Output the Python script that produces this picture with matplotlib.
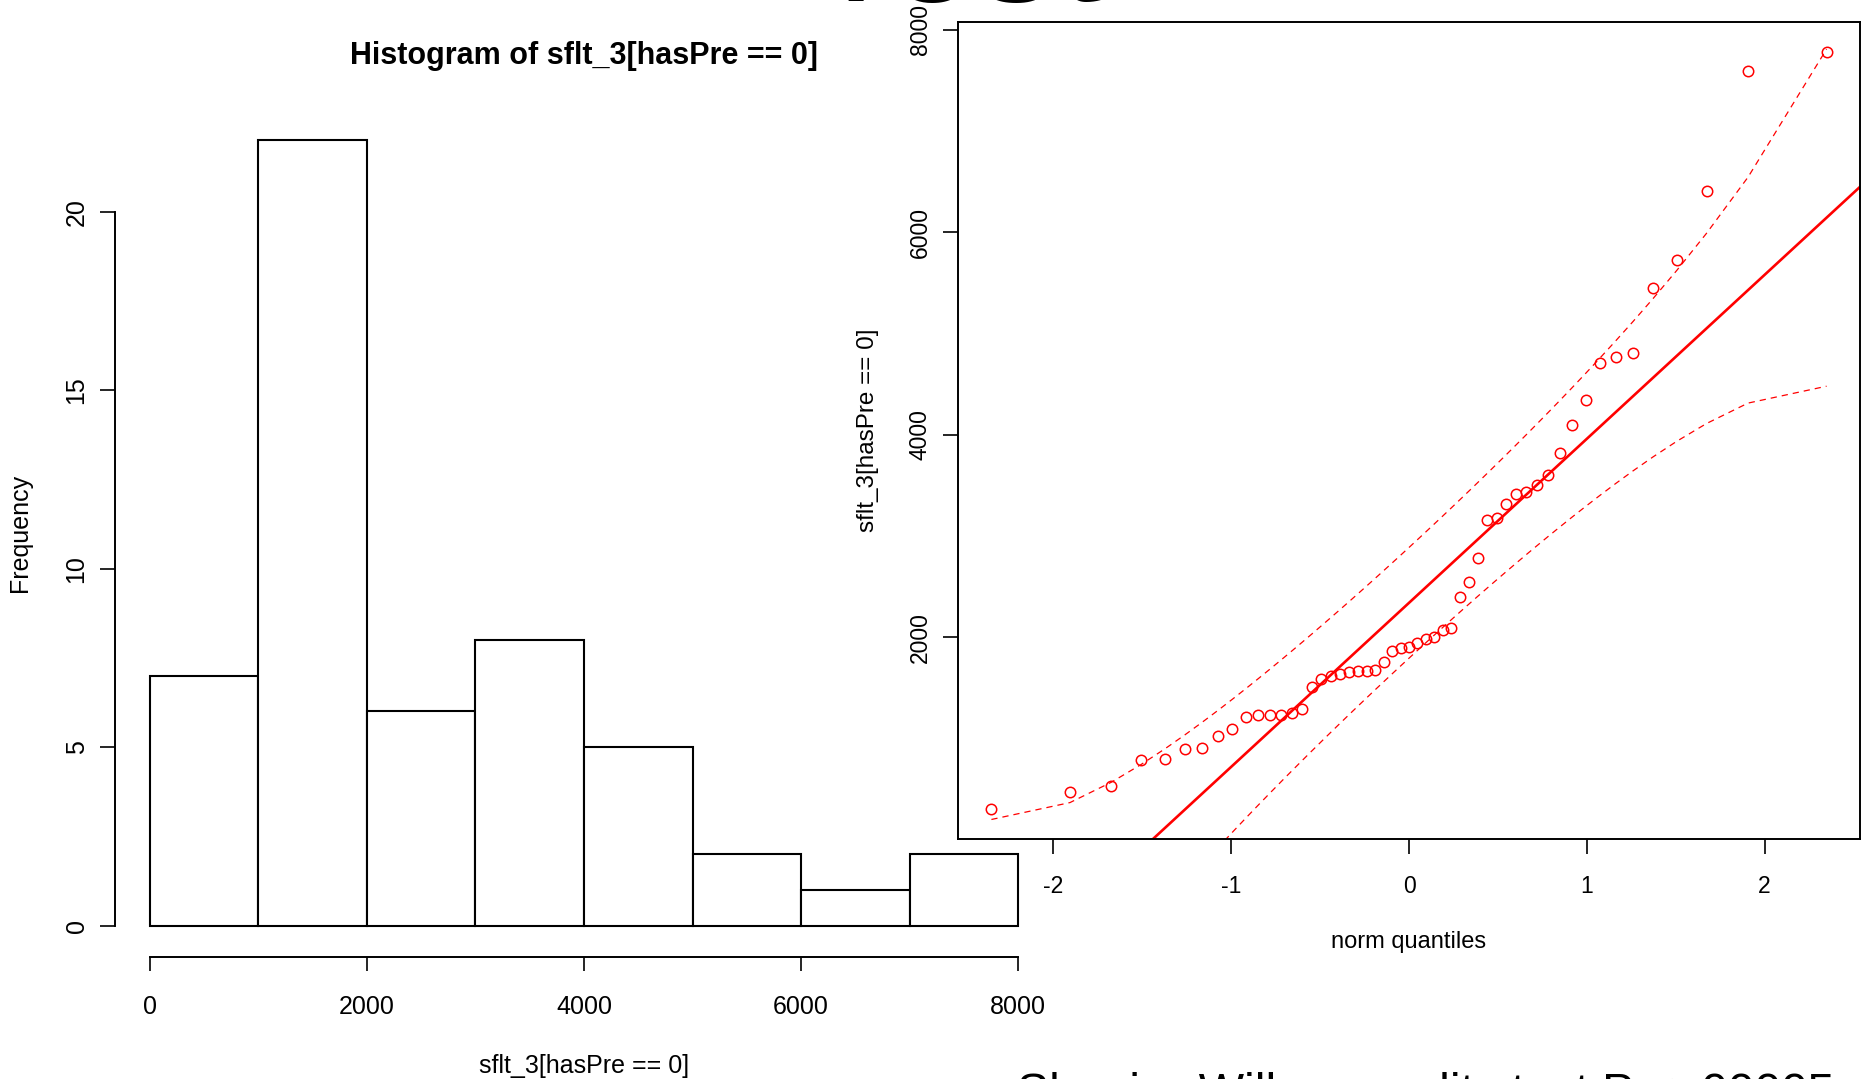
import numpy as np
import matplotlib.pyplot as plt
from statistics import NormalDist

plt.rcParams['font.family'] = ['Liberation Sans', 'DejaVu Sans']
plt.rcParams['axes.unicode_minus'] = False

# sorted sample values
sflt = np.array([305, 473, 533, 783, 794, 892, 903, 1028, 1088, 1213, 1229, 1229, 1229,
                 1246, 1289, 1507, 1583, 1615, 1632, 1659, 1664, 1664, 1675, 1751, 1860,
                 1893, 1904, 1942, 1985, 2005, 2067, 2094, 2399, 2540, 2785, 3155, 3176,
                 3312, 3416, 3432, 3508, 3601, 3818, 4096, 4340, 4710, 4770, 4803, 5450,
                 5727, 6407, 7593, 7778])

# histogram
breaks = [0, 1000, 2000, 3000, 4000, 5000, 6000, 7000, 8000]
counts = [7, 22, 6, 8, 5, 2, 1, 2]
hist_xticks = [0, 2000, 4000, 6000, 8000]
hist_yticks = [0, 5, 10, 15, 20]
qq_xticks = [-2, -1, 0, 1, 2]
qq_yticks = [2000, 4000, 6000, 8000]

W, H = 1871, 1079
fig = plt.figure(figsize=(W / 100, H / 100), dpi=100)


def box(l, t, r, b):
    return [l / W, 1 - b / H, (r - l) / W, (b - t) / H]


# ---- histogram ----
ax = fig.add_axes(box(115, 109, 1053, 957))
lefts = np.array(breaks[:-1])
ax.bar(lefts, counts, width=np.diff(breaks), align='edge', color='white',
       edgecolor='black', linewidth=1.5)
ax.set_xlim(-320, 8320)
ax.set_ylim(-0.88, 22.88)
for s in ['top', 'right']:
    ax.spines[s].set_visible(False)
for s in ['left', 'bottom']:
    ax.spines[s].set_linewidth(1.4)
ax.spines['left'].set_bounds(0, 20)
ax.spines['bottom'].set_bounds(0, 8000)
ax.set_xticks(hist_xticks)
ax.set_yticks(hist_yticks)
ax.tick_params(axis='x', length=10, width=1.2, pad=17.6, labelsize=18)
ax.tick_params(axis='y', length=11, width=1.2, pad=8, labelsize=18)
plt.setp(ax.get_yticklabels(), rotation=90, va='center')
ax.set_xlabel('sflt_3[hasPre == 0]', fontsize=18)
ax.xaxis.set_label_coords(0.5, -0.114)
ax.set_ylabel('Frequency', fontsize=18)
ax.yaxis.set_label_coords(-0.0885, 0.5)
fig.text(584 / W, 1 - 56 / H, 'Histogram of sflt_3[hasPre == 0]', ha='center',
         va='center', fontsize=22, fontweight='bold')

# ---- QQ plot ----
n = len(sflt)
nd = NormalDist()
P = (np.arange(1, n + 1) - 0.5) / n
z = np.array([nd.inv_cdf(p) for p in P])
q1, q3 = np.quantile(sflt, [0.25, 0.75])
b = (q3 - q1) / (nd.inv_cdf(0.75) - nd.inv_cdf(0.25))
a = q1 - b * nd.inv_cdf(0.25)
dens = np.array([nd.pdf(v) for v in z])
se = b / dens * np.sqrt(P * (1 - P) / n)
fit = a + b * z
zz = nd.inv_cdf(0.975)
upper = fit + zz * se
lower = fit - zz * se

qx = fig.add_axes(box(958, 22, 1860, 839))
qx.set_facecolor('white')
xr = z.max() - z.min()
yr = sflt.max() - sflt.min()
qx.set_xlim(z.min() - 0.04 * xr, z.max() + 0.04 * xr)
qx.set_ylim(sflt.min() - 0.04 * yr, sflt.max() + 0.04 * yr)
xl = np.array(qx.get_xlim())
qx.plot(xl, a + b * xl, color='red', lw=1.9)
qx.plot(z, upper, color='red', lw=0.9, ls=(0, (5, 4)))
qx.plot(z, lower, color='red', lw=0.9, ls=(0, (5, 4)))
qx.plot(z, sflt, 'o', mfc='none', mec='red', ms=7.5, mew=1.1)
for s in qx.spines.values():
    s.set_linewidth(1.4)
qx.set_xticks(qq_xticks)
qx.set_yticks(qq_yticks)
qx.tick_params(axis='x', length=11, width=1.2, pad=14.7, labelsize=16.5)
qx.tick_params(axis='y', length=11, width=1.2, pad=8, labelsize=16.5)
plt.setp(qx.get_yticklabels(), rotation=90, va='center')
qx.set_xlabel('norm quantiles', fontsize=17)
qx.xaxis.set_label_coords(0.5, -0.112)
qx.set_ylabel('sflt_3[hasPre == 0]', fontsize=17.5)
qx.yaxis.set_label_coords(-0.0876, 0.5)

# slide text, cut off by the frame
fig.text(806 / W, 1 - 1 / H, 'Test', ha='left', va='baseline', fontsize=116)
fig.text(1017 / W, 1 - 1107 / H, 'Shapiro-Wilk normality test P < .00005',
         ha='left', va='baseline', fontsize=34.6)

fig.savefig('out.png', dpi=100)
